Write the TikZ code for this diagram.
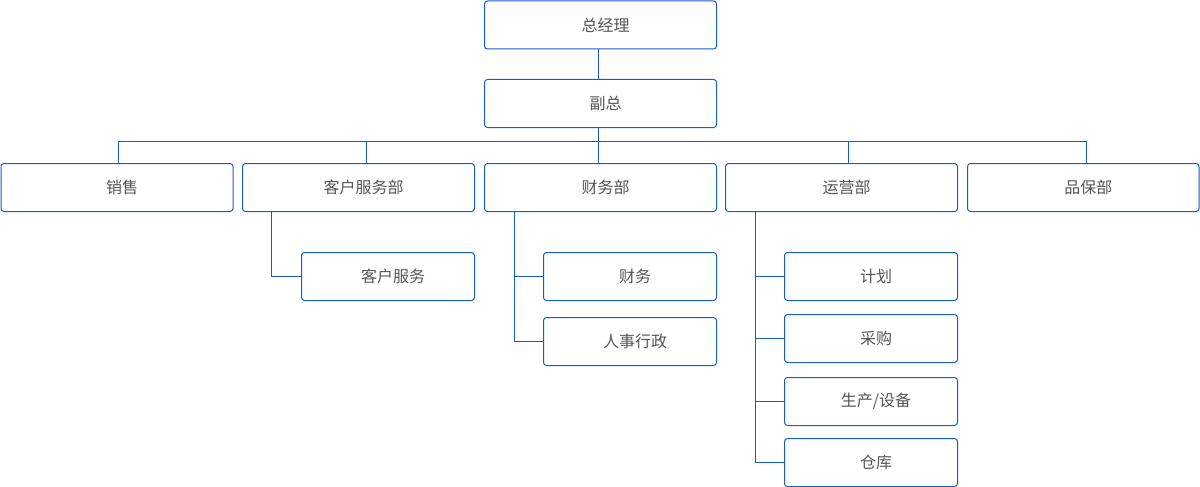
\documentclass[tikz,border=0pt]{standalone}
\usepackage{fontspec}
\setmainfont{Noto Sans CJK SC}
\usetikzlibrary{calc}
\definecolor{lineblue}{RGB}{24,92,200}
\definecolor{textgray}{RGB}{85,85,85}
\tikzset{
	box/.style={draw=lineblue, line width=1pt, rounded corners=3pt, fill=white, text=textgray,
		minimum width=#1, minimum height=48pt, inner sep=0pt, anchor=north west,
		font=\fontsize{16}{19}\selectfont, execute at begin node=\hspace*{10pt}},
	box/.default=232pt,
	link/.style={draw=lineblue, line width=1pt}
}

\begin{document}
\begin{tikzpicture}[x=1pt, y=-1pt]
		%%%%% START %%%%%
		\useasboundingbox (0, 0) rectangle (1200, 487);
		
		\node[box] (gm) at (484, 0.5) {总经理};
		\node[box] (vp) at (484, 79) {副总};
		
		\node[box] (sales) at (0.5, 163) {销售};
		\node[box] (cs) at (242, 163) {客户服务部};
		\node[box] (fin) at (484, 163) {财务部};
		\node[box] (ops) at (725, 163) {运营部};
		\node[box=231.5pt] (qa) at (967, 163) {品保部};
		
		\node[box=173pt] (csA) at (301, 252) {客户服务};
		\node[box=173pt] (finA) at (543, 252) {财务};
		\node[box=173pt] (finB) at (543, 317) {人事行政};
		\node[box=173pt] (opsA) at (784, 252) {计划};
		\node[box=173pt] (opsB) at (784, 314) {采购};
		\node[box=173pt] (opsC) at (784, 377) {生产/设备};
		\node[box=173pt] (opsD) at (784, 438) {仓库};
		
		% bus under 副总
		\coordinate (bus) at (598, 141);
		\coordinate (busL) at (118, 141);
		\coordinate (busR) at (1086.5, 141);
		\draw[link] (gm.south -| bus) -- (vp.north -| bus);
		\draw[link] (vp.south -| bus) -- (bus);
		\draw[link] (sales.north -| busL) -- (busL) -- (busR) -- (qa.north -| busR);
		\draw[link] (bus) -- (fin.north -| bus);
		\draw[link] (366.5, 141) -- (cs.north -| 366.5, 0);
		\draw[link] (848.5, 141) -- (ops.north -| 848.5, 0);
		
		% branches
		\coordinate (csT) at (271, 211);
		\coordinate (finT) at (514, 211);
		\coordinate (opsT) at (755, 211);
		\draw[link] (csT) |- (csA.west);
		\draw[link] (finT) |- (finB.west);
		\draw[link] (finT |- finA.west) -- (finA.west);
		\draw[link] (opsT) |- (opsD.west);
		\foreach \n in {opsA, opsB, opsC}
			\draw[link] (opsT |- \n.west) -- (\n.west);
		%%%%% END %%%%%
	\end{tikzpicture}
\end{document}
